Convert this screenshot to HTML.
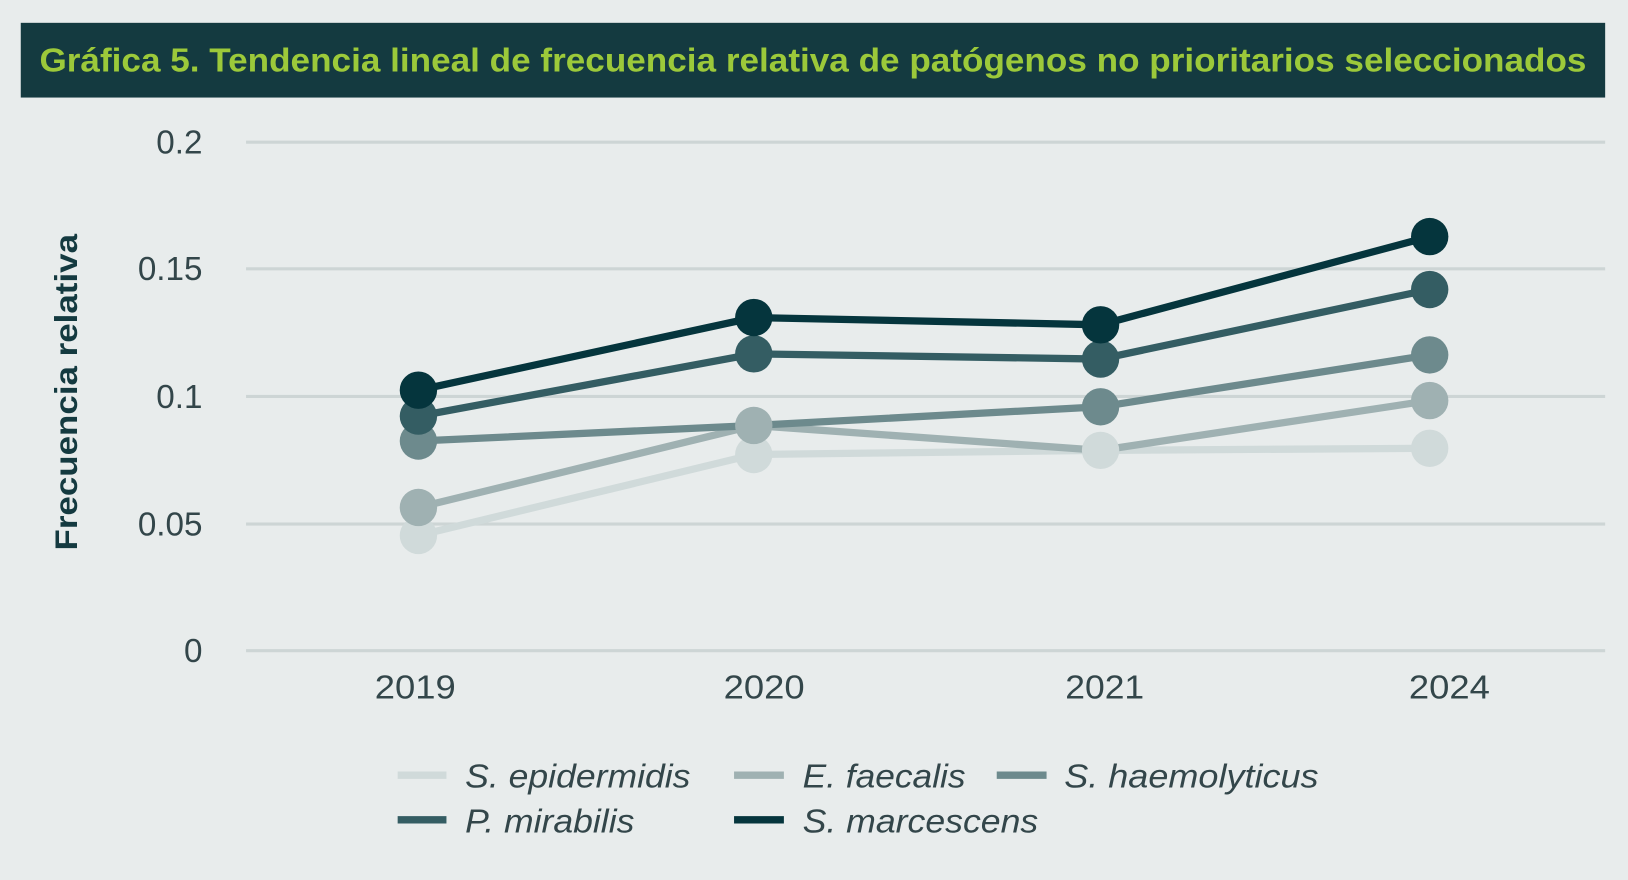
<!DOCTYPE html>
<html><head><meta charset="utf-8"><style>
html,body{margin:0;padding:0;background:#e8ecec;}
svg{display:block;}
text{font-family:"Liberation Sans",sans-serif;}
</style></head><body>
<svg width="1628" height="880" viewBox="0 0 1568 848" preserveAspectRatio="none" xmlns="http://www.w3.org/2000/svg">
<rect width="1568" height="848" fill="#e8ecec"/>
<rect x="20" y="22" width="1526" height="72" fill="#143a40"/>
<text x="783" y="69" text-anchor="middle" font-size="32" font-weight="bold" fill="#9cc93a" textLength="1490" lengthAdjust="spacingAndGlyphs">Gráfica 5. Tendencia lineal de frecuencia relativa de patógenos no prioritarios seleccionados</text>
<g stroke="#cdd5d5" stroke-width="3">
<line x1="237" y1="137" x2="1546" y2="137"/>
<line x1="237" y1="259" x2="1546" y2="259"/>
<line x1="237" y1="382" x2="1546" y2="382"/>
<line x1="237" y1="505" x2="1546" y2="505"/>
<line x1="237" y1="627" x2="1546" y2="627"/>
</g>
<g font-size="32" fill="#33464a" text-anchor="end">
<text x="195" y="148">0.2</text>
<text x="195" y="270">0.15</text>
<text x="195" y="393">0.1</text>
<text x="195" y="516">0.05</text>
<text x="195" y="638">0</text>
</g>
<g font-size="32" fill="#33464a" text-anchor="middle">
<text x="400" y="673" textLength="78" lengthAdjust="spacingAndGlyphs">2019</text>
<text x="736" y="673" textLength="78" lengthAdjust="spacingAndGlyphs">2020</text>
<text x="1064" y="673" textLength="76" lengthAdjust="spacingAndGlyphs">2021</text>
<text x="1396" y="673" textLength="78" lengthAdjust="spacingAndGlyphs">2024</text>
</g>
<text transform="translate(74,378) rotate(-90)" text-anchor="middle" font-size="30" font-weight="bold" fill="#143a40" textLength="305" lengthAdjust="spacingAndGlyphs">Frecuencia relativa</text>
<g stroke-width="7" fill="none">
<polyline stroke="#d0dada" points="403,516 726,438 1060,434 1377,432"/>
<polyline stroke="#9fb1b2" points="403,489 726,410 1060,434 1377,386"/>
<polyline stroke="#6d8a8d" points="403,425 726,410 1060,392 1377,342"/>
<polyline stroke="#345d63" points="403,401 726,341 1060,346 1377,279"/>
<polyline stroke="#05353d" points="403,376 726,306 1060,313 1377,228"/>
</g>
<g fill="#d0dada"><circle cx="403" cy="516" r="18"/><circle cx="726" cy="438" r="18"/><circle cx="1060" cy="434" r="18"/><circle cx="1377" cy="432" r="18"/></g>
<g fill="#9fb1b2"><circle cx="403" cy="489" r="18"/><circle cx="726" cy="410" r="18"/><circle cx="1377" cy="386" r="18"/></g>
<g fill="#6d8a8d"><circle cx="403" cy="425" r="18"/><circle cx="1060" cy="392" r="18"/><circle cx="1377" cy="342" r="18"/></g>
<g fill="#345d63"><circle cx="403" cy="401" r="18"/><circle cx="726" cy="341" r="18"/><circle cx="1060" cy="346" r="18"/><circle cx="1377" cy="279" r="18"/></g>
<g fill="#05353d"><circle cx="403" cy="376" r="18"/><circle cx="726" cy="306" r="18"/><circle cx="1060" cy="313" r="18"/><circle cx="1377" cy="228" r="18"/></g>
<g stroke-width="7">
<line x1="383" y1="747" x2="430" y2="747" stroke="#d0dada"/>
<line x1="707" y1="747" x2="755" y2="747" stroke="#9fb1b2"/>
<line x1="960" y1="747" x2="1008" y2="747" stroke="#6d8a8d"/>
<line x1="383" y1="790" x2="430" y2="790" stroke="#345d63"/>
<line x1="707" y1="790" x2="755" y2="790" stroke="#05353d"/>
</g>
<g font-size="32" font-style="italic" fill="#33464a">
<text x="448" y="759" textLength="217" lengthAdjust="spacingAndGlyphs">S. epidermidis</text>
<text x="773" y="759" textLength="157" lengthAdjust="spacingAndGlyphs">E. faecalis</text>
<text x="1025" y="759" textLength="245" lengthAdjust="spacingAndGlyphs">S. haemolyticus</text>
<text x="448" y="802" textLength="163" lengthAdjust="spacingAndGlyphs">P. mirabilis</text>
<text x="773" y="802" textLength="227" lengthAdjust="spacingAndGlyphs">S. marcescens</text>
</g>
</svg>
</body></html>
